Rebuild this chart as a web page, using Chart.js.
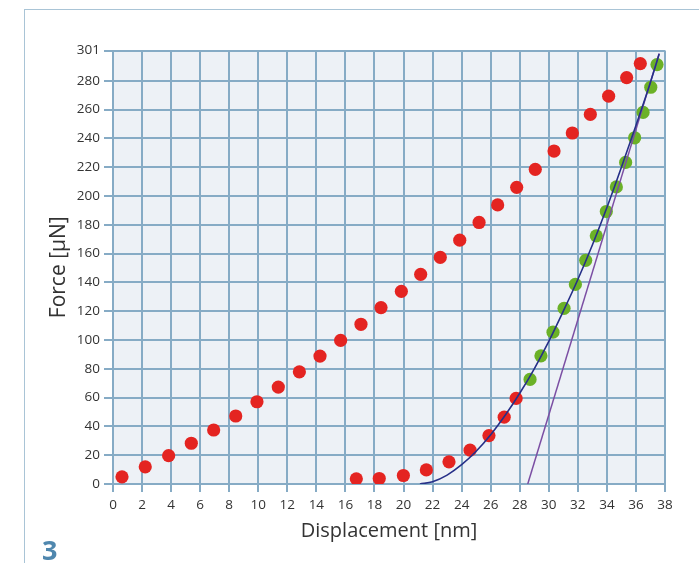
<!DOCTYPE html>
<html>
<head>
<meta charset="utf-8">
<script src="https://cdn.jsdelivr.net/npm/chart.js@4/dist/chart.umd.min.js"></script>
<style>
  html, body { margin: 0; padding: 0; background: #fff; }
  #wrap { position: relative; width: 699px; height: 563px; overflow: hidden; }
  #frame { position: absolute; left: 24px; top: 9px; right: -2px; bottom: -2px;
           border-left: 1.5px solid #a9c4d6; border-top: 1.5px solid #a9c4d6; }
  #fig { position: absolute; left: 42px; top: 531px; font: bold 27px "Open Sans", sans-serif; color: #4f87ae; }
  canvas { position: absolute; left: 0; top: 0; }
</style>
</head>
<body>
<div id="wrap">
  <div id="frame"></div>
  <canvas id="c" width="699" height="563"></canvas>
  <div id="fig">3</div>
</div>
<script>
// Loading branch (displacement nm, force µN)
const loadDisp  = [0.62, 2.22, 3.83, 5.39, 6.93, 8.45, 9.91, 11.38, 12.83, 14.25, 15.67, 17.07, 18.45, 19.85,
                   21.18, 22.53, 23.87, 25.2, 26.48, 27.79, 29.07, 30.36, 31.62, 32.86, 34.12, 35.36, 36.3];
const loadForce = [5.0, 11.9, 19.7, 28.3, 37.5, 47.2, 57.1, 67.3, 77.9, 88.8, 99.7, 110.9, 122.5, 133.8,
                   145.6, 157.3, 169.3, 181.6, 193.8, 206.0, 218.5, 231.2, 243.7, 256.6, 269.3, 282.2, 291.9];

// Unloading branch, lower part (not used for the fit)
const unloadDisp  = [16.75, 18.33, 19.99, 21.57, 23.13, 24.58, 25.88, 26.93, 27.75];
const unloadForce = [3.6, 3.8, 5.9, 9.8, 15.4, 23.5, 33.6, 46.4, 59.4];

// Unloading branch, upper part (fit range)
const fitDisp  = [28.71, 29.46, 30.29, 31.05, 31.83, 32.54, 33.27, 33.96, 34.65, 35.29, 35.91, 36.49, 37.02, 37.45];
const fitForce = [72.6, 89.0, 105.4, 122.0, 138.6, 155.3, 172.3, 189.2, 206.3, 223.3, 240.4, 258.0, 275.5, 291.2];

// Power-law fit of the unloading curve
const curveDisp  = [21.13, 22, 23, 24, 25, 26, 27, 28, 29, 30, 31, 32, 33, 34, 35, 36, 37, 37.6];
const curveForce = [0, 1.6, 6.2, 13.4, 22.7, 34.2, 47.7, 63, 80, 99, 120, 142, 166, 192, 220, 249, 279, 298.5];

// Tangent at maximum load (contact stiffness)
const tangentDisp  = [28.55, 37.6];
const tangentForce = [0, 299];

// Axis ticks
const xTicks = [0, 2, 4, 6, 8, 10, 12, 14, 16, 18, 20, 22, 24, 26, 28, 30, 32, 34, 36, 38];
const yTicks = [0, 20, 40, 60, 80, 100, 120, 140, 160, 180, 200, 220, 240, 260, 280, 301];

const pts = (xs, ys) => xs.map((x, i) => ({ x: x, y: ys[i] }));

const gridColor = '#86abc5';
const textColor = '#333333';

const plotBackground = {
  id: 'plotBackground',
  beforeDraw(chart) {
    const { ctx, chartArea: a } = chart;
    ctx.save();
    ctx.fillStyle = '#edf1f6';
    ctx.fillRect(a.left, a.top, a.right - a.left, a.bottom - a.top);
    ctx.restore();
  }
};

new Chart(document.getElementById('c'), {
  type: 'scatter',
  data: {
    datasets: [
      { data: pts(curveDisp, curveForce), showLine: true, borderColor: '#262f88', borderWidth: 1.6,
        pointRadius: 0, cubicInterpolationMode: 'monotone', fill: false },
      { data: pts(tangentDisp, tangentForce), showLine: true, borderColor: '#7b4ea3', borderWidth: 1.5,
        pointRadius: 0, fill: false },
      { data: pts(fitDisp, fitForce), backgroundColor: '#6bb127', borderWidth: 0, pointRadius: 6.6 },
      { data: pts(unloadDisp, unloadForce), backgroundColor: '#e42421', borderWidth: 0, pointRadius: 6.6 },
      { data: pts(loadDisp, loadForce), backgroundColor: '#e42421', borderWidth: 0, pointRadius: 6.6 }
    ]
  },
  options: {
    responsive: false,
    animation: false,
    layout: { padding: { left: 0, right: 34, top: 50.5, bottom: 0 } },
    plugins: { legend: { display: false }, tooltip: { enabled: false } },
    scales: {
      x: {
        type: 'linear', min: 0, max: 38,
        afterBuildTicks: s => { s.ticks = xTicks.map(v => ({ value: v })); },
        afterFit: s => { s.height = 79; },
        grid: { color: gridColor, lineWidth: 2, tickLength: 8, tickColor: gridColor },
        border: { color: gridColor, width: 2 },
        ticks: { font: { family: 'Open Sans', size: 13.5 }, color: textColor, padding: 5, maxRotation: 0, autoSkip: false },
        title: { display: true, text: 'Displacement [nm]', color: textColor,
                 font: { family: 'Open Sans', size: 20 }, padding: { top: 0, bottom: 20 } }
      },
      y: {
        type: 'linear', min: 0, max: 301,
        afterBuildTicks: s => { s.ticks = yTicks.map(v => ({ value: v })); },
        afterFit: s => { s.width = 113; },
        grid: { color: gridColor, lineWidth: 2, tickLength: 9, tickColor: gridColor },
        border: { color: gridColor, width: 2 },
        ticks: { font: { family: 'Open Sans', size: 13.5 }, color: textColor, padding: 4, autoSkip: false },
        title: { display: true, text: 'Force [µN]', color: textColor,
                 font: { family: 'Open Sans', size: 21 }, padding: { top: 46, bottom: 0 } }
      }
    }
  },
  plugins: [plotBackground]
});
</script>
</body>
</html>
